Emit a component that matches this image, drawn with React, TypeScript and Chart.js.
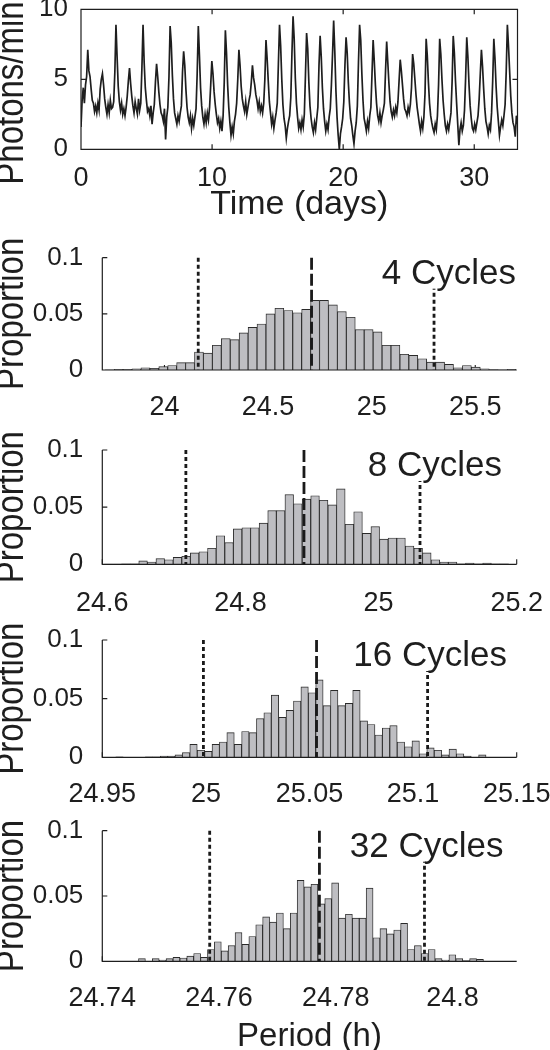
import React, { useEffect, useRef } from "react";
import { Chart, registerables } from "chart.js";

Chart.register(...registerables);

// ---------------- DATA ----------------
// Top panel: bioluminescence trace (photons/min), sampled every traceStepDays
const traceStepDays = 0.08605;
const traceValues: number[] = [
  1.6, 3.5, 4.4, 3.3, 4.6, 5.2, 7.1, 5.6, 5.2, 4.3, 3.5, 3.3,
  2.7, 3.1, 2.6, 3.3, 2.8, 4.3, 5.0, 5.4, 4.6, 3.6, 3.0, 2.5,
  3.2, 2.6, 3.5, 2.9, 3.0, 3.4, 5.5, 8.9, 6.6, 4.5, 3.4, 2.8,
  3.3, 2.5, 2.9, 2.4, 3.0, 3.8, 4.9, 5.8, 4.7, 3.8, 3.1, 2.6,
  3.4, 2.9, 2.5, 3.6, 2.8, 3.3, 5.8, 8.9, 6.2, 4.4, 3.5, 2.7,
  2.9, 2.4, 3.1, 1.8, 2.6, 3.2, 4.8, 6.1, 5.2, 4.1, 3.2, 2.6,
  2.4, 2.0, 2.9, 0.7, 2.3, 3.0, 5.2, 8.8, 7.6, 5.3, 3.6, 2.6,
  2.2, 1.8, 2.4, 2.0, 2.6, 3.1, 5.5, 7.0, 6.0, 4.3, 3.0, 2.3,
  1.9, 2.4, 1.5, 2.2, 1.7, 2.3, 2.9, 5.4, 8.8, 6.7, 4.4, 3.1,
  2.3, 1.8, 2.5, 1.9, 2.6, 2.1, 3.0, 4.6, 6.3, 5.4, 4.1, 3.2,
  2.5, 1.9, 2.2, 1.5, 2.0, 1.3, 2.4, 4.8, 8.5, 6.9, 4.6, 3.0,
  1.9, 1.0, 1.6, 1.1, 2.0, 2.5, 3.3, 5.0, 7.1, 6.0, 4.5, 3.6,
  3.1, 2.7, 3.4, 2.5, 3.0, 3.5, 3.9, 4.8, 6.0, 5.1, 4.6, 3.9,
  3.5, 2.9, 3.4, 2.7, 3.1, 2.6, 3.3, 5.0, 7.8, 6.5, 4.9, 3.4,
  2.6, 1.8, 2.3, 1.5, 2.1, 2.6, 3.3, 6.1, 8.9, 7.4, 5.0, 3.2,
  2.2, 1.7, 0.8, 1.5, 2.0, 2.4, 3.7, 6.8, 9.5, 7.9, 5.1, 3.3,
  2.3, 1.5, 1.9, 1.4, 2.1, 1.6, 2.5, 5.3, 8.3, 7.2, 4.8, 3.1,
  2.2, 1.6, 1.2, 1.9, 1.4, 2.2, 3.0, 6.0, 8.1, 6.6, 4.4, 2.9,
  2.0, 1.3, 1.8, 1.4, 2.3, 2.9, 4.6, 6.8, 9.2, 7.0, 4.2, 2.3,
  1.0, 0.0, 1.1, 1.6, 2.2, 3.4, 6.0, 8.0, 6.9, 4.8, 3.3, 2.2,
  1.7, 1.0, 0.4, 1.3, 1.9, 3.1, 6.2, 8.9, 7.8, 5.4, 3.5, 2.2,
  1.8, 1.3, 2.0, 1.5, 2.4, 3.0, 5.4, 7.8, 6.3, 4.6, 3.3, 2.4,
  2.0, 2.6, 1.9, 2.4, 2.8, 3.3, 5.6, 7.7, 6.2, 4.7, 3.4, 2.7,
  2.3, 2.8, 2.4, 3.0, 2.6, 3.4, 4.9, 6.4, 5.6, 4.6, 3.6, 2.9,
  2.7, 2.4, 3.0, 2.6, 3.2, 4.4, 6.8, 6.1, 5.0, 3.9, 3.0, 2.4,
  1.8, 1.3, 2.0, 1.5, 2.3, 4.0, 7.9, 6.7, 4.8, 3.3, 2.4, 1.9,
  1.5, 1.2, 1.8, 1.4, 2.4, 4.6, 7.9, 6.8, 5.0, 3.5, 2.5, 1.7,
  1.3, 1.8, 1.4, 2.0, 2.6, 4.8, 8.1, 6.9, 4.9, 3.3, 1.8, 0.3,
  1.4, 1.9, 1.3, 1.7, 2.8, 5.1, 8.0, 6.6, 4.6, 3.1, 2.2, 1.5,
  1.3, 1.8, 1.4, 1.9, 2.4, 3.6, 5.4, 7.1, 5.9, 4.3, 2.9, 2.0,
  1.6, 1.1, 1.7, 1.4, 2.6, 4.9, 7.9, 6.5, 4.5, 3.0, 2.0, 1.0,
  1.6, 2.1, 1.7, 2.4, 3.2, 5.6, 8.9, 7.4, 5.6, 3.8, 2.6, 1.9,
  1.6, 0.9, 2.4, 1.8,
];
const traceXMax = 33.3;
const traceXTicks = [0, 10, 20, 30];
const traceYTicks = [0, 5, 10];

// Histograms: proportion of period estimates per bin
const propYTicks = [0, 0.05, 0.1];

const c4Label = "4 Cycles";
const c4BinStart = 23.714;
const c4BinWidth = 0.0431;
const c4Counts = [
  0.0002, 0.0005, 0.0005, 0.001, 0.002, 0.0015, 0.003, 0.004, 0.0065, 0.0065,
  0.016, 0.015, 0.022, 0.028, 0.027, 0.033, 0.038, 0.041, 0.05, 0.055,
  0.053, 0.051, 0.054, 0.062, 0.062, 0.058, 0.052, 0.047, 0.036, 0.036,
  0.034, 0.022, 0.022, 0.014, 0.013, 0.01, 0.007, 0.007, 0.005, 0.002,
  0.004, 0.0025, 0.001, 0.0003, 0.0002, 0.0005,
];
const c4XRange = [23.7, 25.7];
const c4XTicks = [24, 24.5, 25, 25.5];
const c4Lines = [24.163, 24.71, 25.301]; // lower bound, median, upper bound

const c8Label = "8 Cycles";
const c8BinStart = 24.603;
const c8BinWidth = 0.01245;
const c8Counts = [
  0.0003, 0.0002, 0.0005, 0.0005, 0.003, 0.002, 0.005, 0.004, 0.006, 0.007,
  0.01, 0.011, 0.014, 0.025, 0.019, 0.031, 0.032, 0.032, 0.036, 0.047,
  0.047, 0.061, 0.053, 0.057, 0.06, 0.056, 0.052, 0.066, 0.035, 0.046,
  0.027, 0.033, 0.022, 0.023, 0.023, 0.016, 0.014, 0.01, 0.004, 0.002,
  0.002, 0.0005, 0.001, 0.0005, 0.001, 0.0005, 0.0005,
];
const c8XRange = [24.6, 25.2];
const c8XTicks = [24.6, 24.8, 25, 25.2];
const c8Lines = [24.721, 24.892, 25.06];

const c16Label = "16 Cycles";
const c16BinStart = 24.9565;
const c16BinWidth = 0.003574;
const c16Counts = [
  0.0003, 0, 0, 0, 0.0005, 0.0005, 0.001, 0.001, 0.002, 0.004,
  0.011, 0.006, 0.005, 0.011, 0.013, 0.021, 0.011, 0.022, 0.021, 0.033,
  0.038, 0.053, 0.034, 0.04, 0.048, 0.06, 0.055, 0.066, 0.044, 0.057,
  0.044, 0.046, 0.057, 0.031, 0.028, 0.019, 0.025, 0.027, 0.013, 0.009,
  0.014, 0.003, 0.008, 0.006, 0.002, 0.007, 0.003, 0.001, 0, 0.002,
];
const c16XRange = [24.95, 25.15];
const c16XTicks = [24.95, 25, 25.05, 25.1, 25.15];
const c16Lines = [24.9988, 25.0534, 25.107];

const c32Label = "32 Cycles";
const c32BinStart = 24.7462;
const c32BinWidth = 0.001182;
const c32Counts = [
  0.002, 0, 0.002, 0.001, 0.002, 0.003, 0.0025, 0.004, 0.006, 0.003,
  0.009, 0.015, 0.008, 0.012, 0.022, 0.013, 0.019, 0.028, 0.034, 0.03,
  0.037, 0.025, 0.037, 0.062, 0.057, 0.059, 0.044, 0.048, 0.06, 0.033,
  0.036, 0.033, 0.033, 0.056, 0.018, 0.025, 0.021, 0.024, 0.029, 0.009,
  0.012, 0.006, 0.009, 0.002, 0.001, 0.005, 0.002, 0.0005, 0.002, 0.0015,
];
const c32XRange = [24.74, 24.811];
const c32XTicks = [24.74, 24.76, 24.78, 24.8];
const c32Lines = [24.7584, 24.7772, 24.7952];

// ---------------- STYLE / LAYOUT ----------------
const FONT = '"Liberation Sans", Arial, Helvetica, sans-serif';
const INK = "#1e1e1e";
const BAR_FILL = "#bebec2";
const BAR_EDGE = "#2a2a2a";
const W = 550;
const X_TICK_FONT = 27;
const Y_TICK_FONT = 26;
const TITLE_FONT = 33;
const CYCLE_FONT = 35;

type HistPanel = {
  label: string;
  binStart: number;
  binWidth: number;
  counts: number[];
  xRange: number[];
  xTicks: number[];
  lines: number[];
  bandTop: number;
  bandBottom: number;
  plotTop: number;
  plotBottom: number;
  tickPad: number;
  labelRight: number;
  xTitle?: string;
  xTitlePad?: number;
};

const HIST_LEFT = 102.3;
const HIST_RIGHT = 516.7;

const histPanels: HistPanel[] = [
  { label: c4Label, binStart: c4BinStart, binWidth: c4BinWidth, counts: c4Counts, xRange: c4XRange, xTicks: c4XTicks, lines: c4Lines,
    bandTop: 235, bandBottom: 420, plotTop: 257.7, plotBottom: 370, tickPad: 13, labelRight: 516 },
  { label: c8Label, binStart: c8BinStart, binWidth: c8BinWidth, counts: c8Counts, xRange: c8XRange, xTicks: c8XTicks, lines: c8Lines,
    bandTop: 420, bandBottom: 612, plotTop: 450, plotBottom: 564.3, tickPad: 15, labelRight: 502 },
  { label: c16Label, binStart: c16BinStart, binWidth: c16BinWidth, counts: c16Counts, xRange: c16XRange, xTicks: c16XTicks, lines: c16Lines,
    bandTop: 612, bandBottom: 812, plotTop: 640, plotBottom: 757.3, tickPad: 13, labelRight: 507 },
  { label: c32Label, binStart: c32BinStart, binWidth: c32BinWidth, counts: c32Counts, xRange: c32XRange, xTicks: c32XTicks, lines: c32Lines,
    bandTop: 812, bandBottom: 1060, plotTop: 830.7, plotBottom: 961.3, tickPad: 13, labelRight: 503.5,
    xTitle: "Period (h)", xTitlePad: 3 },
];

function drawYTitle(ctx: CanvasRenderingContext2D, text: string, x: number, y: number) {
  ctx.save();
  ctx.translate(x, y);
  ctx.rotate(-Math.PI / 2);
  ctx.scale(1, 1.15);
  ctx.font = `${TITLE_FONT}px ${FONT}`;
  ctx.fillStyle = INK;
  ctx.textAlign = "center";
  ctx.textBaseline = "middle";
  ctx.fillText(text, 0, 0);
  ctx.restore();
}

function TracePanel() {
  const ref = useRef<HTMLCanvasElement | null>(null);
  useEffect(() => {
    if (!ref.current) return;
    const bandTop = 0, bandBottom = 235, plotTop = 9.3, plotBottom = 149.3, plotLeft = 81, plotRight = 517.5;
    const decor = {
      id: "traceDecor",
      afterDatasetsDraw(chart: any) {
        const { ctx, chartArea: a, scales } = chart;
        const x = scales.x, y = scales.y;
        ctx.save();
        ctx.strokeStyle = INK;
        ctx.lineWidth = 1.2;
        ctx.beginPath();
        ctx.rect(a.left, a.top, a.right - a.left, a.bottom - a.top);
        traceXTicks.forEach((v) => {
          const px = x.getPixelForValue(v);
          ctx.moveTo(px, a.bottom); ctx.lineTo(px, a.bottom - 5);
          ctx.moveTo(px, a.top); ctx.lineTo(px, a.top + 5);
        });
        traceYTicks.forEach((v) => {
          const py = y.getPixelForValue(v);
          ctx.moveTo(a.left, py); ctx.lineTo(a.left + 5, py);
          ctx.moveTo(a.right, py); ctx.lineTo(a.right - 5, py);
        });
        ctx.stroke();
        ctx.restore();
        drawYTitle(ctx, "Photons/min", 13, 93);
      },
    };
    const chart = new Chart(ref.current, {
      type: "line",
      data: {
        datasets: [
          {
            data: traceValues.map((v, i) => ({ x: i * traceStepDays, y: v })),
            borderColor: INK,
            borderWidth: 1.7,
            pointRadius: 0,
            tension: 0,
            fill: false,
          },
        ],
      },
      options: {
        responsive: false,
        animation: false,
        devicePixelRatio: 1,
        layout: { padding: { top: plotTop - bandTop, left: 0, right: W - plotRight, bottom: 0 } },
        plugins: { legend: { display: false }, tooltip: { enabled: false } },
        scales: {
          x: {
            type: "linear",
            min: 0,
            max: traceXMax,
            grid: { display: false },
            border: { display: false },
            ticks: { autoSkip: false, maxRotation: 0, minRotation: 0, padding: 5.5, color: INK, font: { family: FONT, size: X_TICK_FONT }, callback: (v: any) => String(v) },
            afterBuildTicks: (s: any) => { s.ticks = traceXTicks.map((v) => ({ value: v })); },
            afterFit: (s: any) => { s.height = bandBottom - plotBottom; s.paddingLeft = 0; s.paddingRight = 0; },
            title: { display: true, text: "Time (days)", color: INK, font: { family: FONT, size: 34 }, padding: { top: 0, bottom: 10 } },
          },
          y: {
            type: "linear",
            min: 0,
            max: 10,
            grid: { display: false },
            border: { display: false },
            ticks: { padding: 5, color: INK, font: { family: FONT, size: Y_TICK_FONT }, callback: (v: any) => String(v) },
            afterBuildTicks: (s: any) => { s.ticks = traceYTicks.map((v) => ({ value: v })); },
            afterFit: (s: any) => { s.width = plotLeft; s.paddingTop = 0; s.paddingBottom = 0; },
          },
        },
      } as any,
      plugins: [decor],
    });
    return () => chart.destroy();
  }, []);
  return <canvas ref={ref} width={W} height={235} style={{ position: "absolute", left: 0, top: 0 }} />;
}

function HistogramPanel({ p }: { p: HistPanel }) {
  const ref = useRef<HTMLCanvasElement | null>(null);
  useEffect(() => {
    if (!ref.current) return;
    const centers = p.counts.map((_, i) => p.binStart + (i + 0.5) * p.binWidth);
    const decor = {
      id: "histDecor",
      beforeDatasetsDraw(chart: any) {
        const { ctx, chartArea: a, scales } = chart;
        ctx.save();
        ctx.strokeStyle = INK;
        ctx.lineWidth = 1.1;
        ctx.beginPath();
        p.xTicks.forEach((v) => {
          const px = scales.x.getPixelForValue(v);
          ctx.moveTo(px, a.bottom); ctx.lineTo(px, a.bottom - 5);
        });
        ctx.stroke();
        ctx.restore();
      },
      afterDatasetsDraw(chart: any) {
        const { ctx, chartArea: a, scales } = chart;
        const x = scales.x, y = scales.y;
        ctx.save();
        ctx.strokeStyle = INK;
        ctx.lineWidth = 1.2;
        ctx.beginPath();
        ctx.moveTo(a.left, a.top); ctx.lineTo(a.left, a.bottom); ctx.lineTo(a.right, a.bottom);
        propYTicks.forEach((v) => {
          const py = y.getPixelForValue(v);
          ctx.moveTo(a.left, py); ctx.lineTo(a.left + 5, py);
        });
        ctx.stroke();
        // reference lines: bounds dotted, median dashed
        ctx.lineWidth = 2.8;
        ctx.strokeStyle = "#1a1a1a";
        p.lines.forEach((v, i) => {
          ctx.setLineDash(i === 1 ? [12, 4] : [4, 3]);
          const px = x.getPixelForValue(v);
          ctx.beginPath();
          ctx.moveTo(px, a.top); ctx.lineTo(px, a.bottom);
          ctx.stroke();
        });
        ctx.setLineDash([]);
        // panel label on white background
        ctx.font = `${CYCLE_FONT}px ${FONT}`;
        const tw = ctx.measureText(p.label).width;
        const base = a.top + 26;
        ctx.fillStyle = "#ffffff";
        ctx.fillRect(p.labelRight - tw - 3, base - 29, tw + 6, 34);
        ctx.fillStyle = INK;
        ctx.textAlign = "right";
        ctx.textBaseline = "alphabetic";
        ctx.fillText(p.label, p.labelRight, base);
        ctx.restore();
        drawYTitle(ctx, "Proportion", 13, (a.top + a.bottom) / 2);
      },
    };
    const chart = new Chart(ref.current, {
      type: "bar",
      data: {
        datasets: [
          {
            data: p.counts.map((c, i) => ({ x: centers[i], y: c })),
            backgroundColor: BAR_FILL,
            borderColor: BAR_EDGE,
            borderWidth: 0.9,
            barPercentage: 1,
            categoryPercentage: 1,
          },
        ],
      },
      options: {
        responsive: false,
        animation: false,
        devicePixelRatio: 1,
        layout: { padding: { top: p.plotTop - p.bandTop, left: 0, right: W - HIST_RIGHT, bottom: 0 } },
        plugins: { legend: { display: false }, tooltip: { enabled: false } },
        scales: {
          x: {
            type: "linear",
            min: p.xRange[0],
            max: p.xRange[1],
            offset: false,
            grid: { display: false },
            border: { display: false },
            ticks: { autoSkip: false, maxRotation: 0, minRotation: 0, padding: p.tickPad, color: INK, font: { family: FONT, size: X_TICK_FONT }, callback: (v: any) => String(v) },
            afterBuildTicks: (s: any) => { s.ticks = p.xTicks.map((v) => ({ value: v })); },
            afterFit: (s: any) => { s.height = p.bandBottom - p.plotBottom; s.paddingLeft = 0; s.paddingRight = 0; },
            title: p.xTitle
              ? { display: true, text: p.xTitle, color: INK, font: { family: FONT, size: 33 }, padding: { top: 0, bottom: p.xTitlePad } }
              : { display: false },
          },
          y: {
            type: "linear",
            min: 0,
            max: 0.1,
            grid: { display: false },
            border: { display: false },
            ticks: { padding: 11, color: INK, font: { family: FONT, size: Y_TICK_FONT }, callback: (v: any) => String(v) },
            afterBuildTicks: (s: any) => { s.ticks = propYTicks.map((v) => ({ value: v })); },
            afterFit: (s: any) => { s.width = HIST_LEFT; s.paddingTop = 0; s.paddingBottom = 0; },
          },
        },
      } as any,
      plugins: [decor],
    });
    return () => chart.destroy();
  }, [p]);
  const h = p.bandBottom - p.bandTop;
  return <canvas ref={ref} width={W} height={h} style={{ position: "absolute", left: 0, top: p.bandTop }} />;
}

export default function App() {
  return (
    <div style={{ position: "fixed", left: 0, top: 0, width: W, height: 1050, overflow: "hidden", background: "#ffffff" }}>
      <TracePanel />
      {histPanels.map((p) => (
        <HistogramPanel key={p.label} p={p} />
      ))}
    </div>
  );
}
